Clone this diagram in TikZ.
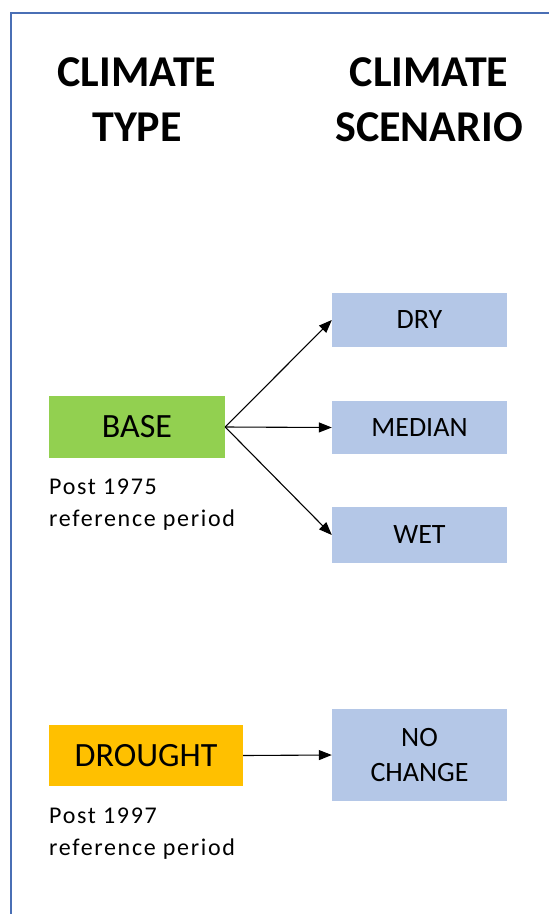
\documentclass[tikz,border=0pt]{standalone}
\usepackage{fontspec}
\setmainfont{Carlito}
\newfontfamily\notefont[LetterSpace=7]{Carlito}
\usetikzlibrary{arrows.meta}
\definecolor{basegreen}{HTML}{92D050}
\definecolor{droughtorange}{HTML}{FFC000}
\definecolor{scenblue}{HTML}{B4C7E7}
\definecolor{frameblue}{HTML}{4A6FB5}
\begin{document}
\begin{tikzpicture}[x=1pt,y=-1pt,
   head/.style={align=center,inner sep=0pt,font=\fontsize{44}{55}\selectfont\bfseries},
   ctype/.style={inner sep=0pt,minimum height=62pt,font=\fontsize{34}{40}\selectfont},
   scen/.style={fill=scenblue,inner sep=0pt,minimum width=175pt,minimum height=54pt,align=center,font=\fontsize{28}{35}\selectfont},
   note/.style={anchor=base west,inner sep=0pt,align=left,font=\notefont\fontsize{24}{32}\selectfont},
   to/.style={-{Triangle[length=13pt,width=10pt]},line width=1.1pt}]
\useasboundingbox (0,0) rectangle (549,914);
\draw[frameblue,line width=1.5pt] (11,914) -- (11,13) -- (549,13);
% headings
\node[head] (typehead) at (137,100) {CLIMATE\\TYPE};
\node[head] (scenhead) at (429,100) {CLIMATE\\SCENARIO};
% climate types
\node[ctype,fill=basegreen,minimum width=176pt] (base) at (137,427) {BASE};
\node[note] (basenote) at (49,526) {Post 1975\\reference period};
\node[ctype,fill=droughtorange,minimum width=194pt,minimum height=61pt] (drought) at (146,755.5) {DROUGHT};
\node[note] (droughtnote) at (49,855) {Post 1997\\reference period};
% scenarios
\node[scen] (dry) at (419.5,320) {DRY};
\node[scen,minimum height=53pt] (median) at (419.5,427.5) {MEDIAN};
\node[scen,minimum height=56pt] (wet) at (419.5,535) {WET};
\node[scen,minimum height=92pt] (nochange) at (419.5,755) {NO\\CHANGE};
\draw[to] (base.east) -- (dry.west);
\draw[to] (base.east) -- (median.west);
\draw[to] (base.east) -- (wet.west);
\draw[to] (drought.east) -- (nochange.west);
\end{tikzpicture}
\end{document}
